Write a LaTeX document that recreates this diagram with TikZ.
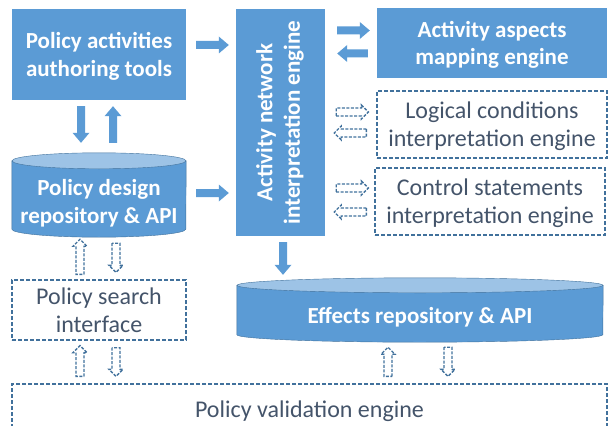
\documentclass[tikz,border=0pt]{standalone}
\usepackage{fontspec}
\setmainfont{Carlito}
\usetikzlibrary{calc}
\usetikzlibrary{backgrounds}
\definecolor{boxblue}{HTML}{5B9BD5}
\definecolor{lidblue}{HTML}{9DC3E6}
\definecolor{edgeblue}{HTML}{41719C}
\definecolor{textgray}{HTML}{44546A}
\newcommand{\repo}[3]{\begin{pgfonlayer}{background} \fill[boxblue, draw=edgeblue, line width=0.4pt] ([yshift=#3]#1.north west) -- ([yshift=#3]#1.south west) arc(180:360:#2 and #3) -- ([yshift=#3]#1.north east) -- cycle; \filldraw[fill=lidblue, draw=edgeblue, line width=0.4pt] ([yshift=#3]#1.north) ellipse (#2 and #3); \end{pgfonlayer}}
\tikzset{
  txt/.style={font=\fontsize{23}{27.5}\selectfont, align=center, inner sep=0pt},
  bluebox/.style={txt, fill=boxblue, text=white, font=\fontsize{23}{27.5}\selectfont\bfseries},
  dashbox/.style={txt, draw=edgeblue, line width=1.3pt, dash pattern=on 4pt off 2pt, text=textgray, font=\fontsize{24}{28}\selectfont},
  repo/.style={txt, text=white, font=\fontsize{23}{27.5}\selectfont\bfseries},
  blockpath/.style args={#1/#2/#3}{to path={let \p1=(\tikztostart), \p2=(\tikztotarget) in
    ($(\p1)!#1!-90:(\p2)$) -- ($(\p2)!#3!(\p1)!#1!90:(\p1)$) -- ($(\p2)!#3!(\p1)!#2!90:(\p1)$) -- (\p2)
    -- ($(\p2)!#3!(\p1)!#2!-90:(\p1)$) -- ($(\p2)!#3!(\p1)!#1!-90:(\p1)$) -- ($(\p1)!#1!90:(\p2)$) -- cycle}},
  fatarrow/.style={fill=boxblue, blockpath=4pt/8.5pt/10pt},
  openarrow/.style={draw=edgeblue, line width=1.3pt, dash pattern=on 3pt off 1.5pt, blockpath=4pt/7pt/7pt}
}
\begin{document}
\begin{tikzpicture}[x=1pt,y=-1pt]
  \clip (0,0) rectangle (609,425);
  \useasboundingbox (0,0) rectangle (609,425);
  % engines
  \node[bluebox, text depth=0pt, minimum width=174pt, minimum height=91pt] (author) at (99,54.5) {Policy activities\\authoring tools};
  \node[bluebox, minimum width=89pt, minimum height=227pt] (anie) at (280.5,122.5) {\rotatebox{90}{\begin{tabular}{@{}c@{}}Activity network\\interpretation engine\end{tabular}}};
  \node[bluebox, text depth=0pt, minimum width=230pt, minimum height=70pt] (aspects) at (492,43) {Activity aspects\\mapping engine};
  \node[dashbox, text depth=0pt, minimum width=230pt, minimum height=67pt] (logic) at (492,124.5) {Logical conditions\\interpretation engine};
  \node[dashbox, text depth=0pt, minimum width=230pt, minimum height=67pt] (control) at (490,201.5) {Control statements\\interpretation engine};
  \node[dashbox, minimum width=174pt, minimum height=60pt] (search) at (99,310) {Policy search\\interface};
  \node[dashbox, minimum width=595pt, minimum height=54pt] (valid) at (309.5,411) {Policy validation engine};
  % repositories
  \node[repo, minimum width=174pt, minimum height=68pt] (pdr) at (99,203) {Policy design\\repository \& API};
  \node[repo, minimum width=366pt, minimum height=49pt] (effects) at (420,317.5) {Effects repository \& API};
  \repo{pdr}{87pt}{8pt}
  \repo{effects}{183pt}{7.5pt}
  % solid arrows
  \path[fatarrow] ($(author.east)+(10,-9.5)$) to ($(anie.west|-author.east)+(-7,-9.5)$);
  \path[fatarrow] ($(pdr.east)+(10,-10)$) to ($(anie.west|-pdr.east)+(-7,-10)$);
  \path[fatarrow] ($(author.south)+(-18,6)$) to ($(pdr.north)+(-18,-26)$);
  \path[fatarrow] ($(pdr.north)+(14,-26)$) to ($(author.south)+(14,6)$);
  \path[fatarrow] ($(anie.east|-aspects.west)+(12,-12.5)$) to ($(aspects.west)+(-7,-12.5)$);
  \path[fatarrow] ($(aspects.west)+(-9,10.5)$) to ($(anie.east|-aspects.west)+(12,10.5)$);
  \path[fatarrow] ($(anie.south)+(2.5,6)$) to ($(anie.south|-effects.north)+(2.5,-18)$);
  % dashed arrows
  \path[openarrow] ($(anie.east|-logic.west)+(11,-12.5)$) to ($(logic.west)+(-8,-12.5)$);
  \path[openarrow] ($(logic.west)+(-10,8.5)$) to ($(anie.east|-logic.west)+(9,8.5)$);
  \path[openarrow] ($(anie.east|-control.west)+(11,-13.5)$) to ($(control.west)+(-6,-13.5)$);
  \path[openarrow] ($(control.west)+(-8,10.5)$) to ($(anie.east|-control.west)+(9,10.5)$);
  \path[openarrow] ($(search.north)+(-19,-5)$) to ($(pdr.south)+(-19,2)$);
  \path[openarrow] ($(pdr.south)+(17,6)$) to ($(search.north)+(17,-7)$);
  \path[openarrow] ($(valid.north-|search.south)+(-19,-7)$) to ($(search.south)+(-19,5)$);
  \path[openarrow] ($(search.south)+(17,7)$) to ($(valid.north-|search.south)+(17,-7)$);
  \path[openarrow] ($(valid.north-|effects.south)+(-32,-7)$) to ($(effects.south)+(-32,5)$);
  \path[openarrow] ($(effects.south)+(28,5)$) to ($(valid.north-|effects.south)+(28,-7)$);
\end{tikzpicture}
\end{document}
